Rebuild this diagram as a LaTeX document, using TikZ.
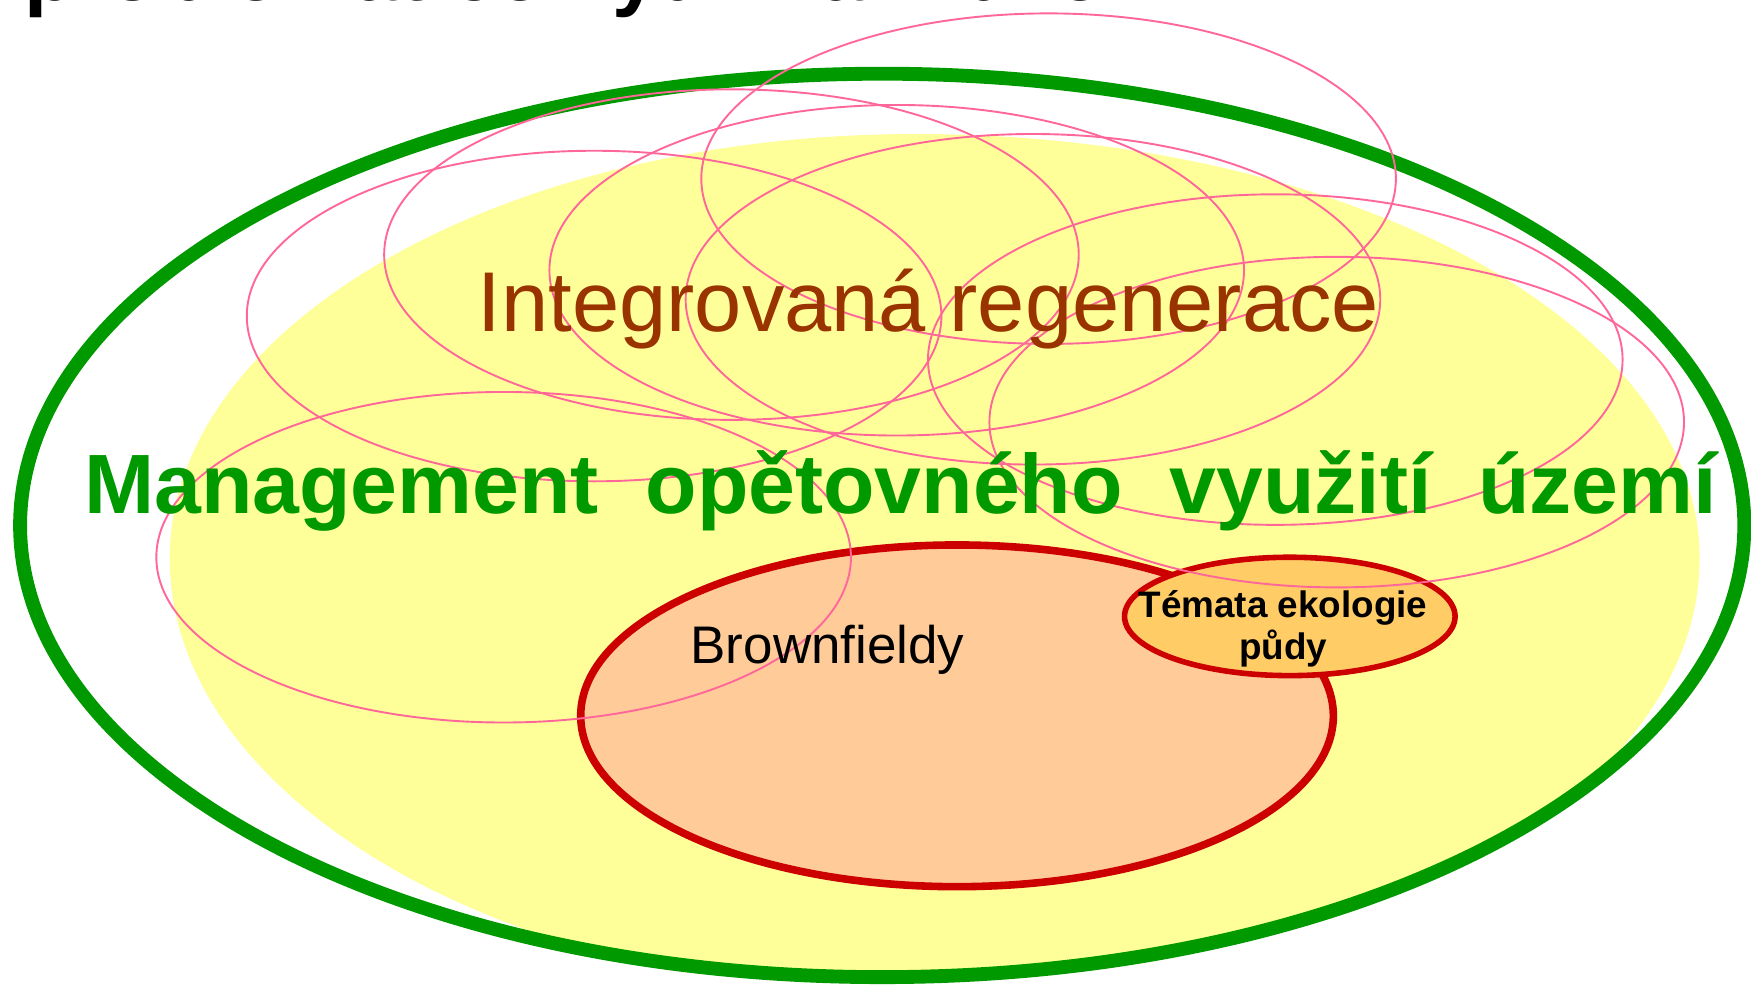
\documentclass[tikz,border=0pt]{standalone}
\usepackage{fontspec}
\setmainfont{Liberation Sans}
\definecolor{outgreen}{HTML}{009900}
\definecolor{yelfill}{HTML}{FFFF99}
\definecolor{bffill}{HTML}{FFCC99}
\definecolor{tefill}{HTML}{FFCC66}
\definecolor{redline}{HTML}{CC0000}
\definecolor{pinkline}{HTML}{FF6699}
\definecolor{regtext}{HTML}{993300}
\begin{document}
\begin{tikzpicture}[x=0.5pt,y=-0.5pt,
  pinkell/.style={draw=pinkline, line width=0.85pt},
  lbl/.style={inner sep=0pt, anchor=base}]
\useasboundingbox (0,0) rectangle (1568,882);
% yellow region, clipped to the green ellipse
\begin{scope}
\clip (790,470.5) ellipse [x radius=772, y radius=404.5];
\fill[yelfill] (152,500) .. controls (152,290) and (451,120) .. (820,120)
  .. controls (1208,120) and (1522,290) .. (1522,500)
  .. controls (1522,715) and (1208,890) .. (820,890)
  .. controls (451,890) and (152,715) .. (152,500) -- cycle;
\end{scope}
% outer green ellipse
\draw[outgreen, line width=6.2pt] (790,470.5) ellipse [x radius=772, y radius=404.5];
% brownfield ellipse
\draw[redline, fill=bffill, line width=3.4pt] (857,641) ellipse [x radius=337, y radius=153];
% soil ecology ellipse
\draw[redline, fill=tefill, line width=2.5pt] (1155,552) ellipse [x radius=148, y radius=53];
% pink ellipses
\foreach \cx/\cy in {939/160, 655/228, 532/283, 803/242, 925/268, 1142/322, 1197/378, 451/499}
  \draw[pinkell] (\cx,\cy) ellipse [x radius=311, y radius=148];
% texts
\node[lbl] (title) at (548.5,0.5) {\fontsize{37.3pt}{44pt}\selectfont\bfseries problematice využívání území};
\node[lbl, text=regtext] (integ) at (831.5,297) {\fontsize{38pt}{45pt}\selectfont Integrovaná regenerace};
\node[lbl, text=outgreen] (manag) at (806.5,460) {\fontsize{37.7pt}{45pt}\selectfont\bfseries Management~~opětovného~~využití~~území};
\node[lbl] (brown) at (741,594) {\fontsize{23.7pt}{28pt}\selectfont Brownfieldy};
\node[lbl] (tema1) at (1149,553) {\fontsize{16.5pt}{19pt}\selectfont\bfseries Témata ekologie};
\node[lbl] (tema2) at (1149,591) {\fontsize{16.5pt}{19pt}\selectfont\bfseries půdy};
\end{tikzpicture}
\end{document}
